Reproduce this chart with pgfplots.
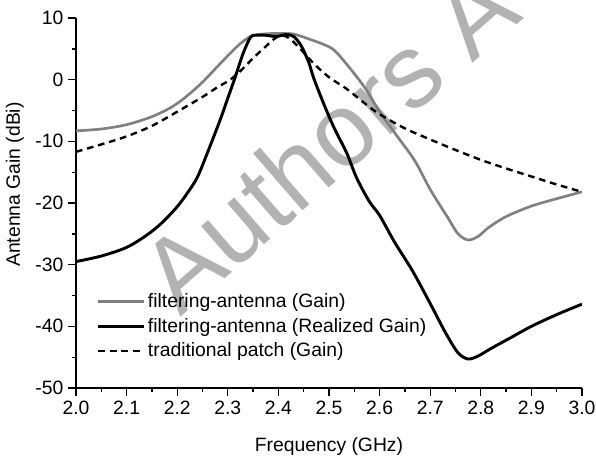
\documentclass[border=0pt]{standalone}
\usepackage{fontspec}
\setmainfont{Liberation Sans}
\usepackage{pgfplots}
\pgfplotsset{compat=1.18}

\definecolor{midgray}{RGB}{128,128,128}

\begin{document}
\begin{tikzpicture}[font=\fontsize{14.5}{17}\selectfont]

	% watermark, behind everything
	\node[overlay, rotate=41, text=black!30, font=\fontsize{78}{78}\selectfont] at (189pt,186pt) {Authors A};

	\begin{axis}[
		scale only axis,
		width			= 379.5pt,
		height			= 277.5pt,
		xmin			= 2, xmax = 3,
		ymin			= -50, ymax = 10,
		axis lines		= left,
		axis line style	= {-, line width=1.1pt},
		tick style		= {black, line width=1pt},
		tick align		= outside,
		major tick length = 6pt,
		minor tick length = 3pt,
		xtick			= {2,2.1,2.2,2.3,2.4,2.5,2.6,2.7,2.8,2.9,3},
		ytick			= {-50,-40,-30,-20,-10,0,10},
		minor x tick num = 1,
		minor y tick num = 1,
		xticklabel style = {/pgf/number format/.cd, fixed, fixed zerofill, precision=1},
		/pgf/number format/assume math mode=true,
		tick label style = {font=\fontsize{14.5}{17}\selectfont},
		label style		= {font=\fontsize{14.5}{17}\selectfont},
		xlabel			= {Frequency (GHz)},
		ylabel			= {Antenna Gain (dBi)},
		xlabel style	= {at={(axis description cs:0.5,0)}, anchor=center, yshift=-44pt},
		ylabel style	= {at={(axis description cs:-0.1206,0.55)}, anchor=center},
		legend style	= {at={(0.041,0.264)}, anchor=north west, draw=none, fill=none,
						   row sep=2.6pt, inner sep=0pt, font=\fontsize{14.5}{17}\selectfont},
		legend cell align = left,
		legend image code/.code={\draw[#1] (0pt,0pt) -- (34pt,0pt);},
	]

		% filtering-antenna (Gain)
		\addplot[color=midgray, line width=2pt, smooth] coordinates {
			(2.00,-8.3) (2.05,-8.0) (2.10,-7.3) (2.15,-6.0) (2.19,-4.4) (2.22,-2.6)
			(2.25,-0.4) (2.285,2.6) (2.32,5.5) (2.345,7.0) (2.37,7.4) (2.40,7.5)
			(2.43,7.4) (2.46,6.6) (2.49,5.7) (2.51,4.8) (2.535,2.5) (2.57,-1.2)
			(2.60,-5.2) (2.635,-9.2) (2.67,-13.2) (2.70,-17.8) (2.735,-22.4) (2.755,-25.0)
			(2.775,-26.0) (2.795,-25.4) (2.815,-24.0) (2.85,-22.2) (2.90,-20.5)
			(2.95,-19.3) (3.00,-18.2)
		};
		\addlegendentry{filtering-antenna (Gain)}

		% filtering-antenna (Realized Gain)
		\addplot[color=black, line width=2.2pt, smooth] coordinates {
			(2.00,-29.5) (2.05,-28.6) (2.10,-27.2) (2.14,-25.2) (2.17,-23.2) (2.20,-20.6)
			(2.22,-18.4) (2.24,-15.8) (2.26,-11.8) (2.285,-6.5) (2.30,-3.0) (2.315,0.5)
			(2.33,4.2) (2.345,6.9) (2.355,7.2) (2.375,7.2) (2.395,7.0) (2.415,7.3)
			(2.43,7.0) (2.445,5.5) (2.46,2.8) (2.47,0.2) (2.49,-4.0) (2.51,-7.8)
			(2.535,-11.9) (2.555,-16.0) (2.58,-19.8) (2.60,-22.0) (2.63,-26.4)
			(2.665,-31.0) (2.70,-36.3) (2.73,-41.0) (2.755,-44.3) (2.775,-45.3)
			(2.795,-44.8) (2.82,-43.6) (2.86,-41.8) (2.90,-40.0) (2.95,-38.1) (3.00,-36.4)
		};
		\addlegendentry{filtering-antenna (Realized Gain)}

		% traditional patch (Gain)
		\addplot[color=black, line width=1.8pt, dash pattern=on 5pt off 3.6pt, smooth] coordinates {
			(2.00,-11.7) (2.05,-10.5) (2.10,-9.2) (2.15,-7.5) (2.20,-5.2) (2.25,-2.8)
			(2.28,-1.2) (2.305,0.0) (2.33,1.8) (2.35,3.5) (2.37,5.0) (2.39,6.5)
			(2.405,7.2) (2.42,6.8) (2.44,5.3) (2.47,2.6) (2.50,0.4) (2.535,-1.5)
			(2.57,-3.8) (2.60,-5.6) (2.65,-7.9) (2.70,-9.7) (2.75,-11.4) (2.80,-13.0)
			(2.85,-14.4) (2.90,-15.7) (2.95,-17.0) (3.00,-18.2)
		};
		\addlegendentry{traditional patch (Gain)}

	\end{axis}

	% page = same margins round the axis as the reference
	\pgfresetboundingbox
	\useasboundingbox (-57pt,-51.75pt) rectangle (390pt,291pt);

\end{tikzpicture}
\end{document}
